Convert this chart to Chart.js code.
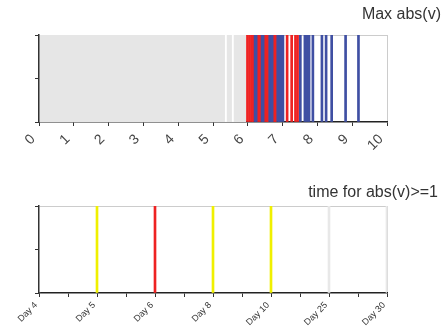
<!DOCTYPE html>
<html>
<head>
<meta charset="utf-8">
<script src="https://cdn.jsdelivr.net/npm/chart.js@4.4.1/dist/chart.umd.min.js"></script>
<style>
  body { margin: 0; background: #fff; }
  #wrap { position: relative; width: 444px; height: 327px; }
  #top-box { position: absolute; left: 0; top: 0; width: 444px; height: 165px; }
  #bottom-box { position: absolute; left: 0; top: 165px; width: 444px; height: 162px; }
</style>
</head>
<body>
<div id="wrap">
  <div id="top-box"><canvas id="max-chart" width="444" height="165"></canvas></div>
  <div id="bottom-box"><canvas id="time-chart" width="444" height="162"></canvas></div>
</div>
<script>
// top chart: max abs(v)
const topTickLabels = ['0', '1', '2', '3', '4', '5', '6', '7', '8', '9', '10'];
const grayRange = [0, 5.95];
const gapVals = [5.37, 5.57];
const redVals = [5.99, 6.05, 6.11, 6.15, 6.30, 6.35, 6.49, 6.55, 6.57, 6.76, 6.80, 7.13, 7.26, 7.37, 7.43];
const blueVals = [6.21, 6.24, 6.41, 6.44, 6.63, 6.68, 6.70, 6.86, 6.91, 6.95, 7.01, 7.51, 7.64, 7.70, 7.76, 7.87, 8.13, 8.25, 8.41, 8.81, 9.18];

// bottom chart: time for abs(v)>=1
const days = ['Day 4', 'Day 5', 'Day 6', 'Day 8', 'Day 10', 'Day 25', 'Day 30'];
const dayHits = [0, 1, 1, 1, 1, 1, 1];
const dayColors = ['#ffffff', '#f0f000', '#ee2222', '#f0f000', '#f0f000', '#e8e8e8', '#e8e8e8'];

const FONT = "'Liberation Sans', Arial, sans-serif";

const cornerTitle = {
  id: 'cornerTitle',
  afterDraw(chart, args, opts) {
    const ctx = chart.ctx;
    ctx.save();
    ctx.font = '16px ' + FONT;
    ctx.fillStyle = '#333';
    ctx.textAlign = 'right';
    ctx.textBaseline = 'middle';
    ctx.fillText(opts.text, opts.x, opts.y);
    ctx.restore();
  }
};

const toPoints = vals => vals.map(v => ({x: v, y: 1}));

function yAxis() {
  return {
    min: 0,
    max: 1,
    ticks: {display: false, stepSize: 0.5},
    grid: {
      color: c => c.tick && c.tick.value === 1 ? '#cccccc' : 'rgba(0,0,0,0)',
      tickColor: '#333',
      tickLength: 4
    },
    border: {display: true, color: '#333', width: 1.5, z: 1},
    afterFit: s => { s.width = 39; }
  };
}

new Chart(document.getElementById('max-chart').getContext('2d'), {
  type: 'bar',
  data: {
    datasets: [
      {
        data: toPoints(blueVals),
        backgroundColor: '#3f4fa3',
        barThickness: 2
      },
      {
        data: toPoints(redVals),
        backgroundColor: '#ee2222',
        barThickness: 2
      },
      {
        data: toPoints(gapVals),
        backgroundColor: '#ffffff',
        barThickness: 1.2
      },
      {
        type: 'line',
        data: toPoints(grayRange),
        borderWidth: 0,
        pointRadius: 0,
        fill: 'origin',
        backgroundColor: '#e6e6e6'
      }
    ]
  },
  options: {
    responsive: false,
    animation: false,
    events: [],
    grouped: false,
    layout: {padding: {left: 0, right: 57, top: 35, bottom: 0}},
    plugins: {
      legend: {display: false},
      tooltip: {enabled: false},
      cornerTitle: {text: 'Max abs(v)', x: 441, y: 15}
    },
    scales: {
      x: {
        type: 'linear',
        min: 0,
        max: 10,
        offset: false,
        ticks: {
          stepSize: 1,
          autoSkip: false,
          minRotation: 45,
          maxRotation: 45,
          padding: 5,
          labelOffset: -6,
          color: '#444',
          font: {family: FONT, size: 14},
          callback: v => topTickLabels[v]
        },
        grid: {
          offset: false,
          color: c => c.tick && c.tick.value === 10 ? '#cccccc' : 'rgba(0,0,0,0)',
          tickColor: '#333',
          tickLength: 4
        },
        border: {display: true, color: '#222', width: 1.5},
        afterFit: s => { s.height = 43; }
      },
      y: yAxis()
    }
  },
  plugins: [cornerTitle]
});

new Chart(document.getElementById('time-chart').getContext('2d'), {
  type: 'bar',
  data: {
    datasets: [{
      data: dayHits.map((h, i) => ({x: i, y: h})),
      backgroundColor: dayColors,
      barThickness: 2
    }]
  },
  options: {
    responsive: false,
    animation: false,
    events: [],
    layout: {padding: {left: 0, right: 57, top: 41, bottom: 0}},
    plugins: {
      legend: {display: false},
      tooltip: {enabled: false},
      cornerTitle: {text: 'time for abs(v)>=1', x: 438, y: 28}
    },
    scales: {
      x: {
        type: 'linear',
        min: 0,
        max: days.length - 1,
        offset: false,
        ticks: {
          stepSize: 0.5,
          autoSkip: false,
          minRotation: 45,
          maxRotation: 45,
          padding: 3,
          labelOffset: -3,
          color: '#333',
          font: {family: FONT, size: 9},
          callback: v => Number.isInteger(v) ? days[v] : ''
        },
        grid: {
          offset: false,
          color: c => c.tick && c.tick.value === days.length - 1 ? '#dddddd' : 'rgba(0,0,0,0)',
          tickColor: '#333',
          tickLength: 4
        },
        border: {display: true, color: '#222', width: 1.5},
        afterFit: s => { s.height = 34; }
      },
      y: yAxis()
    }
  },
  plugins: [cornerTitle]
});
</script>
</body>
</html>
